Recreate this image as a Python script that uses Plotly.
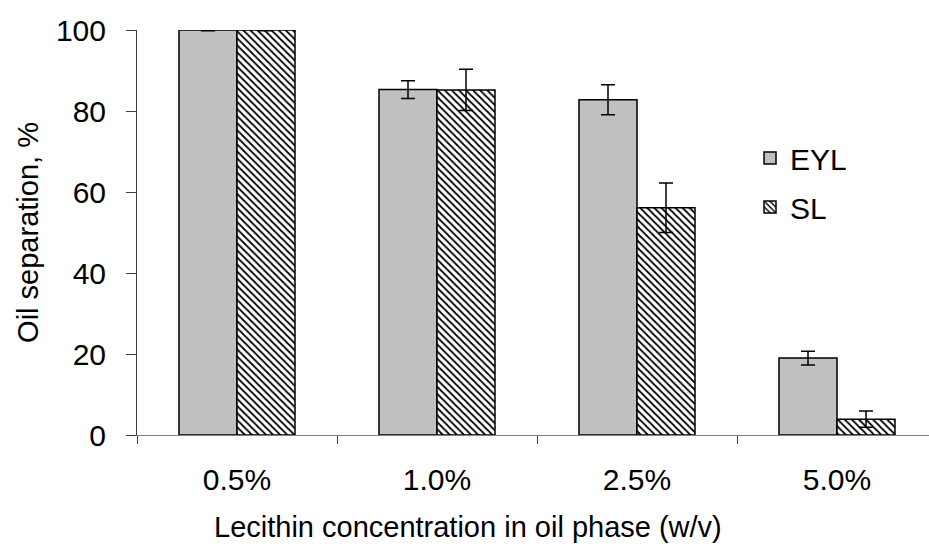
import plotly.graph_objects as go

# Lecithin concentration groups and oil separation results
categories = ["0.5%", "1.0%", "2.5%", "5.0%"]
eyl_values = [100.0, 85.3, 82.8, 19.0]
eyl_errors = [0.2, 2.2, 3.7, 1.7]
sl_values = [100.0, 85.2, 56.1, 3.9]
sl_errors = [0.2, 5.1, 6.1, 2.0]

FONT = "Liberation Sans, Arial, sans-serif"
err_style = dict(type="data", color="black", thickness=1.5, width=7, visible=True)

fig = go.Figure()
fig.add_trace(go.Bar(
    name="EYL", x=categories, y=eyl_values,
    error_y=dict(array=eyl_errors, **err_style),
    marker=dict(color="#C0C0C0", line=dict(color="black", width=1.5)),
    legend="legend",
))
fig.add_trace(go.Bar(
    name="SL", x=categories, y=sl_values,
    error_y=dict(array=sl_errors, **err_style),
    marker=dict(
        color="white",
        line=dict(color="black", width=1.5),
        pattern=dict(shape="\\", fgcolor="black", bgcolor="white",
                     size=5, solidity=0.35, fillmode="replace"),
    ),
    legend="legend2",
))

legend_common = dict(
    xanchor="left", yanchor="middle", bgcolor="rgba(0,0,0,0)",
    font=dict(family=FONT, size=30, color="black"),
)

fig.update_layout(
    width=929, height=550,
    margin=dict(l=137, r=0, t=30, b=115),
    paper_bgcolor="white", plot_bgcolor="white",
    barmode="group", bargap=0.42, bargroupgap=0,
    font=dict(family=FONT, size=29, color="black"),
    showlegend=True,
    legend=dict(x=0.774, y=0.684, visible=True, **legend_common),
    legend2=dict(x=0.774, y=0.563, visible=True, **legend_common),
    xaxis=dict(
        range=[-0.5, 3.46],
        showline=True, linecolor="#808080", linewidth=1,
        ticks="outside", tickson="boundaries", ticklen=8, tickcolor="#404040",
        ticklabelstandoff=18,
        showgrid=False,
        tickfont=dict(family=FONT, size=30, color="black"),
    ),
    yaxis=dict(
        range=[0, 100], tickvals=[0, 20, 40, 60, 80, 100],
        showline=True, linecolor="#404040", linewidth=1,
        ticks="outside", ticklen=10, tickcolor="#404040",
        ticklabelstandoff=14,
        showgrid=False, zeroline=False,
        tickfont=dict(family=FONT, size=30, color="black"),
        title=dict(text="Oil separation, %",
                   font=dict(family=FONT, size=29, color="black"), standoff=8),
    ),
    annotations=[dict(
        text="Lecithin concentration in oil phase (w/v)",
        xref="paper", yref="paper", x=0.418, y=-0.227,
        xanchor="center", yanchor="middle", showarrow=False,
        font=dict(family=FONT, size=29, color="black"),
    )],
)

fig.write_html("out.html")
